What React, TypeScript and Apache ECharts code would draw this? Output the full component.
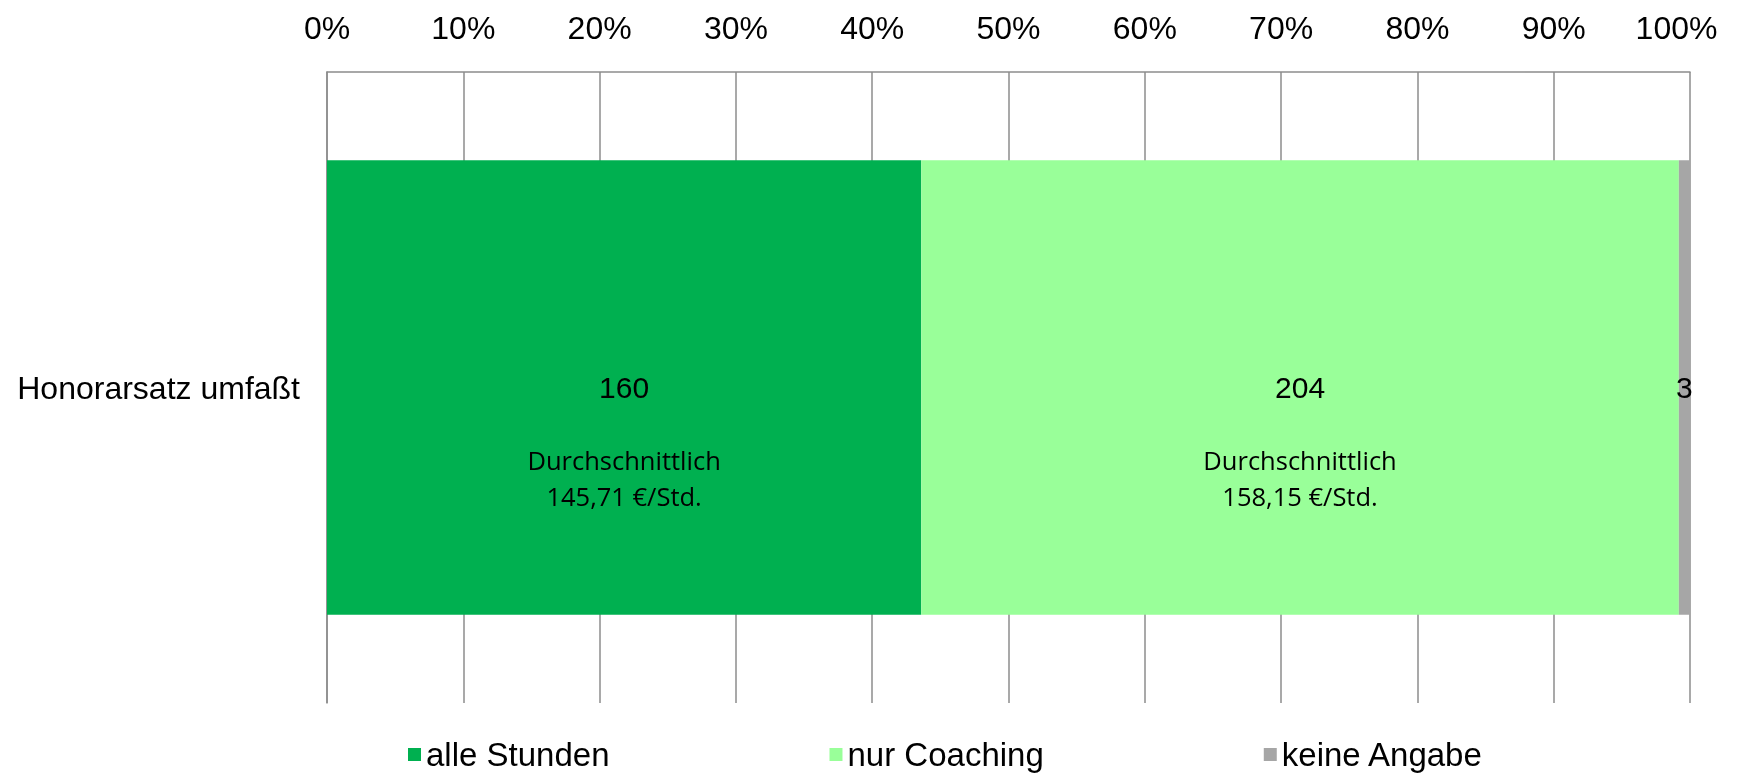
import React, { useEffect, useRef } from "react";
import * as echarts from "echarts";

const categories = ["Honorarsatz umfaßt"];
const seriesNames = ["alle Stunden", "nur Coaching", "keine Angabe"];
const counts = [160, 204, 3];
const averageTexts = ["145,71 €/Std.", "158,15 €/Std.", ""];
const colors = ["#00B050", "#99FF99", "#A6A6A6"];

const ARIAL = "'Liberation Sans', Arial, sans-serif";
const SOFT = "'Open Sans', 'Noto Sans', sans-serif";

export default function App() {
  const ref = useRef<HTMLDivElement>(null);
  useEffect(() => {
    if (!ref.current) return;
    const chart = echarts.init(ref.current, null, { renderer: "svg" });
    const total = counts.reduce((a, b) => a + b, 0);
    const series = seriesNames.map((name, i) => {
      const hasAvg = averageTexts[i] !== "";
      const formatter = hasAvg
        ? `{n|${counts[i]}}\n{s| }\n{d|Durchschnittlich}\n{d|${averageTexts[i]}}`
        : `{n|${counts[i]}}`;
      const totalH = hasAvg ? 36 + 36 + 36 + 36 : 36;
      return {
        name,
        type: "bar",
        stack: "total",
        barWidth: "72%",
        data: [(counts[i] / total) * 100],
        itemStyle: { color: colors[i] },
        label: {
          show: true,
          position: "inside",
          formatter,
          offset: [0, totalH / 2 - 18],
          rich: {
            n: { fontSize: 30, fontFamily: ARIAL, color: "#000", lineHeight: 36 },
            s: { fontSize: 10, lineHeight: 36 },
            d: { fontSize: 25.5, fontFamily: SOFT, color: "#000", lineHeight: 36 },
          },
        },
      };
    });
    chart.setOption({
      animation: false,
      grid: { left: 327, right: 60, top: 72, bottom: 70 },
      xAxis: {
        type: "value",
        position: "top",
        min: 0,
        max: 100,
        interval: 10,
        axisLine: { show: true, lineStyle: { color: "#8c8c8c", width: 1.5 } },
        axisTick: { show: false },
        splitLine: { show: true, lineStyle: { color: "#8c8c8c", width: 1.5 } },
        axisLabel: {
          formatter: (v: number) => (v === 100 ? `{last|${v}%}` : `${v}%`),
          fontSize: 32,
          fontFamily: ARIAL,
          color: "#000",
          margin: 28,
          rich: {
            last: { fontSize: 32, fontFamily: ARIAL, color: "#000", padding: [0, 27, 0, 0] },
          },
        },
      },
      yAxis: {
        type: "category",
        data: categories,
        axisLine: { show: true, lineStyle: { color: "#8c8c8c", width: 1.5 } },
        axisTick: { show: false },
        axisLabel: { fontSize: 32, fontFamily: ARIAL, color: "#000", margin: 27 },
      },
      legend: {
        data: seriesNames,
        left: 403,
        top: 733,
        icon: "rect",
        itemWidth: 13,
        itemHeight: 13,
        itemGap: 220,
        textStyle: { fontSize: 33, fontFamily: ARIAL, color: "#000" },
      },
      series,
    });
    return () => chart.dispose();
  }, []);
  return (
    <div
      ref={ref}
      style={{ position: "fixed", left: 0, top: 0, width: 1750, height: 773 }}
    />
  );
}
